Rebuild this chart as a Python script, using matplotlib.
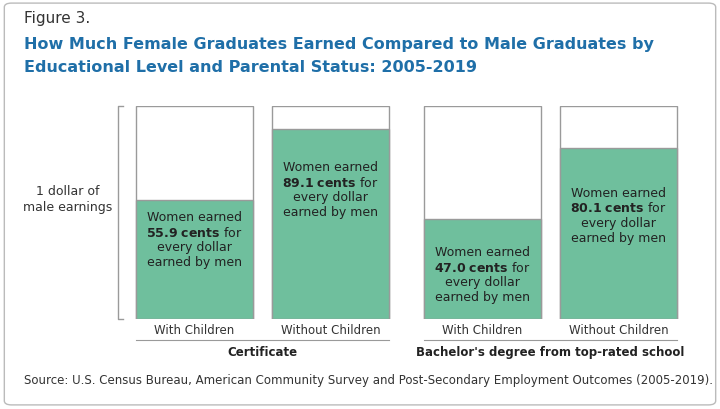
import matplotlib.pyplot as plt
from matplotlib.patches import FancyBboxPatch, Rectangle

categories = ["With Children", "Without Children", "With Children", "Without Children"]
groups = ["Certificate", "Bachelor's degree from top-rated school"]
cents = [55.9, 89.1, 47.0, 80.1]
xpos = [0, 1, 2.118, 3.118]
text_y = [0.375, 0.61, 0.21, 0.49]

green = "#6fbf9d"
edge = "#9a9a9a"
fig = plt.figure(figsize=(7.2, 4.1), dpi=100)
fig.patches.append(FancyBboxPatch((0.006, 0.01), 0.988, 0.98, boxstyle="round,pad=0,rounding_size=0.01",
                                  transform=fig.transFigure, fill=False, ec="#bbbbbb", lw=1))
fig.text(24/720, 1-18/410, "Figure 3.", fontsize=11, color="#333333", va="center")
fig.text(24/720, 1-45/410, "How Much Female Graduates Earned Compared to Male Graduates by",
         fontsize=11.5, color="#1f6fa8", weight="bold", va="center")
fig.text(24/720, 1-68/410, "Educational Level and Parental Status: 2005-2019",
         fontsize=11.5, color="#1f6fa8", weight="bold", va="center")

ax = fig.add_axes([100/720, 1-320/410, 600/720, 213/410])
ax.set_xlim(-0.695, 3.717)
ax.set_ylim(0, 1)
ax.axis("off")
w = 0.86
vals = [c/100 for c in cents]
ax.bar(xpos, [1]*4, width=w, color="white", edgecolor=edge, lw=1)
ax.bar(xpos, vals, width=w, color=green, edgecolor=edge, lw=1)
for x, c, ty in zip(xpos, cents, text_y):
    lines = ["Women earned", None, "every dollar", "earned by men"]
    dy = 15/213
    for i, l in enumerate(lines):
        yy = ty + (1.5 - i)*dy
        if l is None:
            ax.text(x, yy, r"$\bf{%.1f\ cents}$ for" % c, ha="center", va="center", fontsize=9, color="#222222")
        else:
            ax.text(x, yy, l, ha="center", va="center", fontsize=9, color="#222222")
# bracket
bx = (118-194.5)/136
ax.plot([bx+0.04, bx, bx, bx+0.04], [1, 1, 0, 0], color=edge, lw=1, clip_on=False)
fig.text(68/720, 1-200/410, "1 dollar of\nmale earnings", ha="center", va="center", fontsize=9, color="#333333", linespacing=1.3)
for x, c in zip(xpos, categories):
    ax.text(x, -11/213, c, ha="center", va="center", fontsize=8.5, color="#333333")
for i, g in enumerate(groups):
    xc = (xpos[2*i] + xpos[2*i+1]) / 2
    ax.plot([xpos[2*i]-w/2, xpos[2*i+1]+w/2], [-21/213]*2, color=edge, lw=0.8, clip_on=False)
    ax.text(xc, -33/213, g, ha="center", va="center", fontsize=8.5, weight="bold", color="#222222")
fig.text(24/720, 1-381/410, "Source: U.S. Census Bureau, American Community Survey and Post-Secondary Employment Outcomes (2005-2019).",
         fontsize=8.5, color="#333333", va="center")
fig.savefig("out.png", dpi=100)
